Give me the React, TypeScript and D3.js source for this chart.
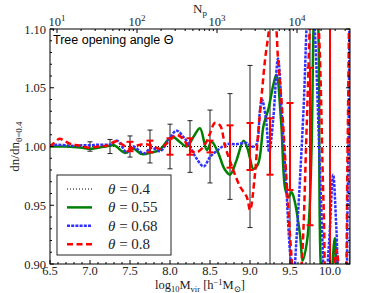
import React from 'react';
import * as d3 from 'd3';

// canvas and plot box (pixels)
const W = 390;
const H = 293;
const PL = 50, PR = 350, PT = 29, PB = 264;

const massDomain: [number, number] = [6.5, 10.25];
const ratioDomain: [number, number] = [0.9, 1.1];
// log10 of particle mass, used for the top N_p axis
const LOG_MP = 5.5875;

const xTicks = [6.5, 7.0, 7.5, 8.0, 8.5, 9.0, 9.5, 10.0];
const yTicks = [0.9, 0.95, 1.0, 1.05, 1.1];
const npExponents = [1, 2, 3, 4];

// ratio curves: [log10 Mvir, dn/dn_0.4]
const theta055: [number, number][] = [
  [6.5, 1.0], [6.6, 1.0], [6.7, 1.0], [6.8, 0.9995], [6.9, 0.999], [7.0, 0.998],
  [7.1, 0.999], [7.2, 1.0], [7.3, 1.001], [7.44, 0.9945], [7.54, 0.998], [7.65, 0.9935],
  [7.77, 0.995], [7.87, 0.997], [7.98, 1.006], [8.04, 1.008], [8.12, 1.004], [8.21, 1.0],
  [8.3, 1.009], [8.375, 1.0155], [8.46, 0.997], [8.52, 1.004], [8.6, 0.995], [8.68, 0.981],
  [8.75, 0.976], [8.83, 0.988], [8.92, 1.005], [8.97, 0.998], [9.0, 0.99], [9.04, 0.981],
  [9.1, 0.985], [9.17, 1.018], [9.23, 1.032], [9.29, 1.052], [9.33, 1.061], [9.39, 1.02],
  [9.44, 0.964], [9.48, 0.957], [9.52, 0.961], [9.56, 0.953], [9.625, 0.925], [9.66, 0.903],
  [9.71, 0.918], [9.74, 0.94], [9.77, 1.0], [9.8, 1.12], [9.83, 1.16], [9.86, 1.08],
  [9.9, 0.88], [9.96, 0.86], [10.01, 0.88], [10.06, 0.922], [10.1, 0.88], [10.2, 0.86],
  [10.25, 1.2],
];

const theta068: [number, number][] = [
  [6.5, 1.001], [6.6, 1.0015], [6.7, 1.001], [6.8, 1.0005], [6.9, 1.001], [7.0, 1.001],
  [7.1, 1.0015], [7.2, 1.0015], [7.27, 1.002], [7.34, 1.005], [7.46, 0.995], [7.54, 1.0],
  [7.67, 0.994], [7.77, 0.999], [7.875, 0.996], [7.98, 1.005], [8.08, 1.0135], [8.17, 1.008],
  [8.25, 1.0], [8.33, 0.99], [8.42, 0.983], [8.5, 0.991], [8.58, 0.996], [8.71, 1.002],
  [8.83, 1.002], [8.96, 1.003], [9.02, 1.0], [9.075, 1.001], [9.125, 1.031], [9.15, 1.04],
  [9.2, 1.023], [9.24, 0.995], [9.29, 1.023], [9.35, 1.075], [9.4, 1.025], [9.45, 0.97],
  [9.5, 0.91], [9.54, 0.885], [9.58, 0.92], [9.67, 1.033], [9.72, 1.12], [9.76, 1.15],
  [9.81, 1.1], [9.88, 0.97], [9.94, 0.88], [9.99, 0.92], [10.04, 0.976], [10.08, 0.93],
  [10.12, 0.88], [10.18, 0.87], [10.22, 0.95], [10.25, 1.2],
];

const theta080: [number, number][] = [
  [6.5, 1.0], [6.55, 1.003], [6.62, 1.0065], [6.7, 1.004], [6.77, 1.002], [6.85, 1.001],
  [6.98, 0.999], [7.1, 1.0], [7.2, 1.0005], [7.33, 1.0045], [7.42, 1.001], [7.5, 0.998],
  [7.6, 1.001], [7.7, 1.002], [7.8, 1.0], [7.87, 0.998], [7.95, 1.002], [8.02, 1.007],
  [8.08, 1.01], [8.17, 1.006], [8.25, 0.997], [8.33, 0.995], [8.42, 1.0], [8.5, 1.011],
  [8.56, 1.02], [8.625, 1.018], [8.69, 1.0], [8.79, 0.98], [8.875, 0.966], [8.96, 0.957],
  [9.0, 0.946], [9.06, 0.975], [9.1, 1.01], [9.15, 1.047], [9.19, 1.075], [9.23, 1.095],
  [9.27, 1.115], [9.31, 1.11], [9.35, 1.075], [9.4, 1.033], [9.44, 0.99], [9.48, 0.945],
  [9.52, 0.905], [9.56, 0.87], [9.6, 0.87], [9.65, 0.905], [9.71, 1.02], [9.76, 1.12],
  [9.8, 1.15], [9.86, 1.1], [9.92, 0.95], [9.97, 0.87], [10.03, 0.88], [10.08, 0.912],
  [10.13, 0.88], [10.18, 0.85], [10.22, 1.0], [10.25, 1.2],
];

// error bars around unity
const errMassBlack = [7.0, 7.25, 7.5, 7.75, 8.0, 8.25, 8.5, 8.75, 9.0, 9.25, 9.5, 9.75, 10.0];
const errBlack = [0.004, 0.006, 0.009, 0.014, 0.019, 0.022, 0.031, 0.045, 0.069, 0.3, 0.3, 0.3, 0.3];
const errMassRed = [7.5, 7.75, 8.0, 8.25, 8.5, 8.75, 9.0, 9.25, 9.5, 9.75, 10.0];
const errRed = [0.004, 0.005, 0.007, 0.007, 0.005, 0.018, 0.02, 0.024, 0.037, 0.067, 0.3];

const legendLabels = ['0.4', '0.55', '0.68', '0.8'];

const SERIF = '"Liberation Serif", "DejaVu Serif", serif';
const SANS = '"Liberation Sans", Arial, sans-serif';

const styles = [
  { stroke: '#000000', width: 1, dash: '1,2' },
  { stroke: '#008000', width: 2.5, dash: undefined },
  { stroke: '#3030ff', width: 2.5, dash: '3,1.2' },
  { stroke: '#ff0000', width: 2.5, dash: '6,3.5' },
];

export default function App() {
  const x = d3.scaleLinear().domain(massDomain).range([PL, PR]);
  const y = d3.scaleLinear().domain(ratioDomain).range([PB, PT]);
  const top = d3
    .scaleLog()
    .domain([Math.pow(10, massDomain[0] - LOG_MP), Math.pow(10, massDomain[1] - LOG_MP)])
    .range([PL, PR]);

  const line = d3
    .line<[number, number]>()
    .x((d) => x(d[0]))
    .y((d) => y(d[1]))
    .curve(d3.curveCatmullRom.alpha(0.5));

  const series = [theta055, theta068, theta080];

  const yMinor = d3.range(0.9, 1.1001, 0.01).filter((v) => Math.abs(Math.round(v * 20) - v * 20) > 1e-6);
  const xMinor = d3.range(6.5, 10.2501, 0.1).filter((v) => Math.abs(Math.round(v * 2) - v * 2) > 1e-6);
  const topMinor: number[] = [];
  const [n0, n1] = top.domain();
  for (let e = 0; e <= 4; e++) {
    for (let k = 2; k <= 9; k++) {
      const v = k * Math.pow(10, e);
      if (v > n0 && v < n1) topMinor.push(v);
    }
  }

  const errBar = (m: number, e: number, color: string, sw: number, cap: number, key: string) => {
    const cx = x(m);
    const y0 = y(1 - e);
    const y1 = y(1 + e);
    return (
      <g key={key} stroke={color} strokeWidth={sw}>
        <line x1={cx} x2={cx} y1={y0} y2={y1} />
        <line x1={cx - cap} x2={cx + cap} y1={y0} y2={y0} />
        <line x1={cx - cap} x2={cx + cap} y1={y1} y2={y1} />
      </g>
    );
  };

  return (
    <svg width={W} height={H} style={{ position: 'absolute', left: 0, top: 0, background: '#fff' }}>
      <defs>
        <clipPath id="plot">
          <rect x={PL} y={PT} width={PR - PL} height={PB - PT} />
        </clipPath>
      </defs>

      <g clipPath="url(#plot)">
        {errMassBlack.map((m, i) => errBar(m, errBlack[i], '#222', 1, 2.5, 'b' + i))}
        <line
          x1={x(massDomain[0])} x2={x(massDomain[1])} y1={y(1)} y2={y(1)}
          stroke="#000" strokeWidth={1} strokeDasharray="1,2"
        />
        {series.map((s, i) => (
          <path
            key={i}
            d={line(s) || ''}
            fill="none"
            stroke={styles[i + 1].stroke}
            strokeWidth={styles[i + 1].width}
            strokeDasharray={styles[i + 1].dash}
            strokeLinejoin="round"
          />
        ))}
        {errMassRed.map((m, i) => errBar(m, errRed[i], '#ff0000', 2, 3.5, 'r' + i))}
      </g>

      {/* frame */}
      <rect x={PL} y={PT} width={PR - PL} height={PB - PT} fill="none" stroke="#000" strokeWidth={1} />

      {/* ticks, inward on all sides */}
      <g stroke="#000" strokeWidth={1}>
        {xTicks.map((t) => (
          <line key={'xt' + t} x1={x(t)} x2={x(t)} y1={PB} y2={PB - 4} />
        ))}
        {xMinor.map((t) => (
          <line key={'xm' + t} x1={x(t)} x2={x(t)} y1={PB} y2={PB - 2} />
        ))}
        {yTicks.map((t) => (
          <g key={'yt' + t}>
            <line x1={PL} x2={PL + 4} y1={y(t)} y2={y(t)} />
            <line x1={PR} x2={PR - 4} y1={y(t)} y2={y(t)} />
          </g>
        ))}
        {yMinor.map((t) => (
          <g key={'ym' + t}>
            <line x1={PL} x2={PL + 2} y1={y(t)} y2={y(t)} />
            <line x1={PR} x2={PR - 2} y1={y(t)} y2={y(t)} />
          </g>
        ))}
        {npExponents.map((e) => (
          <line key={'tt' + e} x1={top(Math.pow(10, e))} x2={top(Math.pow(10, e))} y1={PT} y2={PT + 4} />
        ))}
        {topMinor.map((v) => (
          <line key={'tm' + v} x1={top(v)} x2={top(v)} y1={PT} y2={PT + 2} />
        ))}
      </g>

      {/* tick labels */}
      <g fontFamily={SERIF} fontSize={12.5} fill="#222">
        {xTicks.map((t) => (
          <text key={'xl' + t} x={x(t)} y={PB + 10.5} textAnchor="middle">
            {t.toFixed(1)}
          </text>
        ))}
        {yTicks.map((t) => (
          <text key={'yl' + t} x={PL - 4} y={y(t) + 4.5} textAnchor="end">
            {t.toFixed(2)}
          </text>
        ))}
        {npExponents.map((e) => (
          <text key={'nl' + e} x={top(Math.pow(10, e))} y={PT - 3} textAnchor="middle">
            10<tspan fontSize={9} dy={-5}>{e}</tspan>
          </text>
        ))}
      </g>

      {/* axis labels */}
      <text x={200} y={289} fontFamily={SERIF} fontSize={12.5} fill="#222" textAnchor="middle">
        log<tspan fontSize={8.5} dy={2.5}>10</tspan>
        <tspan dy={-2.5}>M</tspan>
        <tspan fontSize={8.5} dy={2.5}>vir</tspan>
        <tspan dy={-2.5}> [h</tspan>
        <tspan fontSize={8.5} dy={-4}>−1</tspan>
        <tspan dy={4}>M</tspan>
        <tspan fontSize={8.5} dy={2.5}>⊙</tspan>
        <tspan dy={-2.5}>]</tspan>
      </text>
      <text x={200} y={13} fontFamily={SERIF} fontSize={13} fill="#222" textAnchor="middle">
        N<tspan fontSize={9} dy={3}>p</tspan>
      </text>
      <text
        transform={`translate(19,${y(1)}) rotate(-90)`}
        fontFamily={SERIF} fontSize={13} fill="#222" textAnchor="middle"
      >
        dn/dn<tspan fontSize={9} dy={3}>θ=0.4</tspan>
      </text>

      <text x={53} y={44} fontFamily={SANS} fontSize={12.5} fill="#000">
        Tree opening angle Θ
      </text>

      {/* legend */}
      <g>
        <rect x={57} y={175} width={114} height={80} fill="#fff" stroke="#222" strokeWidth={1} />
        {legendLabels.map((lab, i) => {
          const ly = 189 + i * 18.4;
          const st = styles[i];
          return (
            <g key={lab}>
              <line
                x1={67} x2={92} y1={ly} y2={ly}
                stroke={st.stroke} strokeWidth={st.width} strokeDasharray={st.dash}
              />
              <text x={108} y={ly + 5} fontFamily={SERIF} fontSize={15} fill="#222">
                <tspan fontStyle="italic">θ</tspan> = {lab}
              </text>
            </g>
          );
        })}
      </g>
    </svg>
  );
}
